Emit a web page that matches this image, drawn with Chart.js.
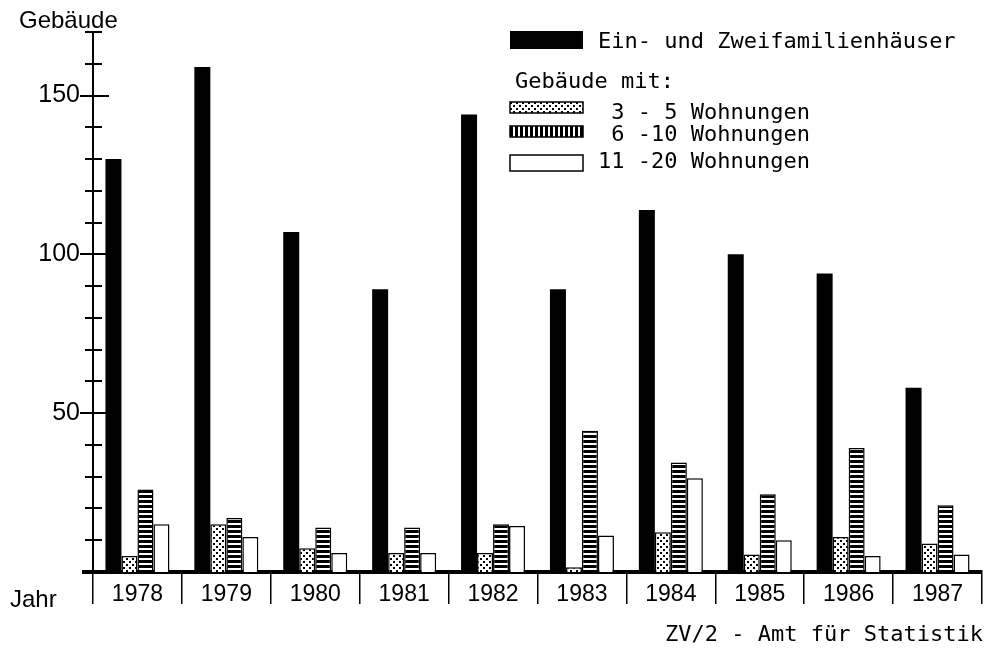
<!DOCTYPE html>
<html lang="de">
<head>
<meta charset="utf-8">
<title>Gebäude 1978-1987</title>
<script src="https://cdn.jsdelivr.net/npm/chart.js@4/dist/chart.umd.min.js"></script>
<style>
  html, body { margin: 0; padding: 0; background: #fff; }
  #chart { display: block; }
</style>
</head>
<body>
<canvas id="chart" width="987" height="664"></canvas>
<script>
// Daten
const years = ['1978', '1979', '1980', '1981', '1982', '1983', '1984', '1985', '1986', '1987'];
const einZweiFam = [130, 159, 107, 89, 144, 89, 114, 100, 94, 58];
const wohn3bis5 = [5, 15, 7.5, 6, 6, 1.5, 12.5, 5.5, 11, 9];
const wohn6bis10 = [26, 17, 14, 14, 15, 44.5, 34.5, 24.5, 39, 21];
const wohn11bis20 = [15, 11, 6, 6, 14.5, 11.5, 29.5, 10, 5, 5.5];
const yTickStep = 10;
const yMax = 170;

const seriesLabels = ['Ein- und Zweifamilienhäuser', ' 3 - 5 Wohnungen', ' 6 -10 Wohnungen', '11 -20 Wohnungen'];
const yTitle = 'Gebäude';
const xTitle = 'Jahr';
const legendHeading = 'Gebäude mit:';
const sourceNote = 'ZV/2 - Amt für Statistik';

const MONO = '"DejaVu Sans Mono", monospace';
const SANS = '"Liberation Sans", Arial, sans-serif';

// Schraffuren
function makePattern(w, h, draw) {
  const c = document.createElement('canvas');
  c.width = w;
  c.height = h;
  const g = c.getContext('2d');
  g.fillStyle = '#fff';
  g.fillRect(0, 0, w, h);
  g.fillStyle = '#000';
  draw(g);
  return g.createPattern(c, 'repeat');
}

const ctx = document.getElementById('chart').getContext('2d');
const dotPattern = makePattern(6, 6, g => {
  g.fillRect(0, 0, 2, 2);
  g.fillRect(3, 3, 2, 2);
});
const hStripes = makePattern(4, 5, g => g.fillRect(0, 0, 4, 3));
const vStripes = makePattern(5, 4, g => g.fillRect(0, 0, 3, 4));

// Achsenstriche, Beschriftungen, Legende
const decorPlugin = {
  id: 'decor',
  afterDraw(chart) {
    const c = chart.ctx;
    const yScale = chart.scales.y;
    const area = chart.chartArea;
    const left = area.left;

    c.save();
    c.strokeStyle = '#000';
    c.fillStyle = '#000';

    // Teilstriche der y-Achse (durchgehend)
    c.lineWidth = 2;
    yScale.ticks.forEach(t => {
      if (t.value === 0) return;
      const py = Math.round(yScale.getPixelForValue(t.value));
      const major = t.value % 50 === 0;
      c.beginPath();
      c.moveTo(left - (major ? 13 : 8), py);
      c.lineTo(left + (major ? 16 : 9), py);
      c.stroke();
    });

    // Grundlinie nach links verlängern
    c.lineWidth = 4;
    c.beginPath();
    c.moveTo(82, area.bottom);
    c.lineTo(left, area.bottom);
    c.stroke();

    // Achsentitel
    c.textBaseline = 'middle';
    c.textAlign = 'left';
    c.font = '24px ' + SANS;
    c.fillText(yTitle, 19, 21);
    c.fillText(xTitle, 10, 600);

    // Quelle
    c.font = '22px ' + MONO;
    c.fillText(sourceNote, 665, 635);

    // Legende
    const sw = { x: 510, w: 73 };
    const ds = chart.data.datasets;
    c.fillStyle = '#000';
    c.fillRect(sw.x, 31, sw.w, 18);
    c.fillText(ds[0].label, 598, 42);
    c.fillText(legendHeading, 515, 82);

    const rows = [
      { y: 102, h: 11, fill: dotPattern, text: 113 },
      { y: 126, h: 11, fill: vStripes, text: 135 },
      { y: 155, h: 16, fill: '#fff', text: 162 }
    ];
    c.lineWidth = 1.5;
    rows.forEach((r, i) => {
      c.fillStyle = r.fill;
      c.fillRect(sw.x, r.y, sw.w, r.h);
      c.strokeRect(sw.x, r.y, sw.w, r.h);
      c.fillStyle = '#000';
      c.fillText(ds[i + 1].label, 598, r.text);
    });

    c.restore();
  }
};

new Chart(ctx, {
  type: 'bar',
  data: {
    labels: years,
    datasets: [
      { label: seriesLabels[0], data: einZweiFam, backgroundColor: '#000', borderWidth: 0 },
      { label: seriesLabels[1], data: wohn3bis5, backgroundColor: dotPattern, borderColor: '#000', borderWidth: 1.5 },
      { label: seriesLabels[2], data: wohn6bis10, backgroundColor: hStripes, borderColor: '#000', borderWidth: 1.5 },
      { label: seriesLabels[3], data: wohn11bis20, backgroundColor: '#fff', borderColor: '#000', borderWidth: 1.5 }
    ]
  },
  options: {
    responsive: false,
    animation: false,
    layout: { padding: { top: 32, right: 5, left: 0, bottom: 0 } },
    datasets: {
      bar: { categoryPercentage: 0.72, barPercentage: 1.0 }
    },
    plugins: {
      legend: { display: false },
      tooltip: { enabled: false }
    },
    scales: {
      x: {
        offset: true,
        grid: {
          offset: true,
          drawOnChartArea: false,
          drawTicks: true,
          tickLength: 32,
          color: '#000',
          lineWidth: 1.5
        },
        border: { display: true, color: '#000', width: 4 },
        ticks: {
          color: '#000',
          padding: -23,
          maxRotation: 0,
          autoSkip: false,
          font: { family: SANS, size: 23 }
        },
        afterFit: scale => { scale.height = 92; }
      },
      y: {
        min: 0,
        max: yMax,
        grid: { display: false, drawTicks: false },
        border: { display: true, color: '#000', width: 2 },
        ticks: {
          stepSize: yTickStep,
          autoSkip: false,
          color: '#000',
          padding: 13,
          font: { family: SANS, size: 25 },
          callback: function(value) {
            return value > 0 && value % 50 === 0 ? value : '';
          }
        },
        afterFit: scale => { scale.width = 93; }
      }
    }
  },
  plugins: [decorPlugin]
});
</script>
</body>
</html>
